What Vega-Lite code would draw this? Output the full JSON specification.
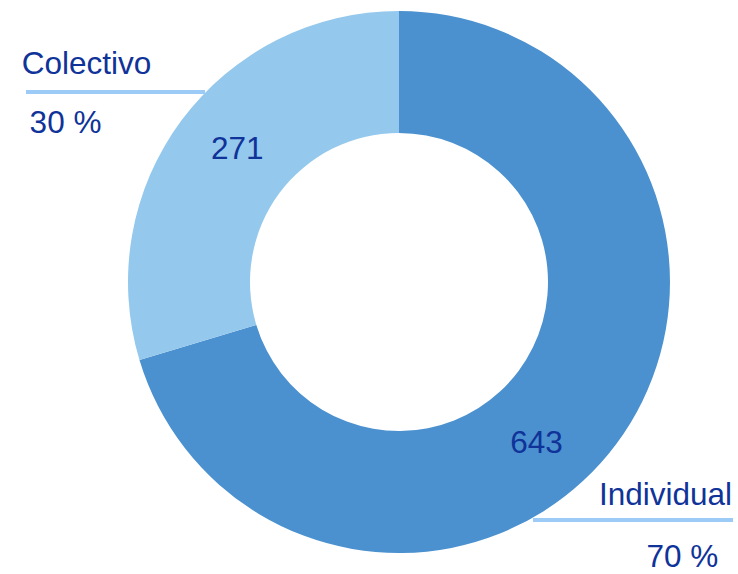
{
  "$schema": "https://vega.github.io/schema/vega-lite/v6.json",
  "width": 678,
  "height": 564,
  "autosize": {"type": "none"},
  "padding": {"left": 60, "top": 0, "right": 0, "bottom": 10},
  "background": "white",
  "config": {"view": {"stroke": null}, "text": {"font": "Liberation Sans", "fontSize": 31.5, "color": "#0f3399"}},
  "data": {"values": [
    {"categoria": "Individual", "valor": 643, "porcentaje": "70 %"},
    {"categoria": "Colectivo", "valor": 271, "porcentaje": "30 %"}
  ]},
  "transform": [
    {"stack": "valor", "groupby": [], "sort": [{"field": "categoria", "order": "descending"}], "as": ["v0", "v1"]},
    {"calculate": "(datum.v0 + datum.v1) / 2", "as": "mid"}
  ],
  "layer": [
    {
      "mark": {"type": "arc", "outerRadius": 271, "innerRadius": 149},
      "encoding": {
        "theta": {"field": "v0", "type": "quantitative", "scale": {"domain": [0, 914], "nice": false, "zero": true}},
        "theta2": {"field": "v1"},
        "color": {"field": "categoria", "type": "nominal", "legend": null,
          "scale": {"domain": ["Individual", "Colectivo"], "range": ["#4b91cf", "#94c8ec"]}}
      }
    },
    {
      "transform": [{"filter": "datum.categoria === 'Colectivo'"}],
      "mark": {"type": "text", "radius": 209, "dx": 6, "dy": -7},
      "encoding": {"theta": {"field": "mid", "type": "quantitative"}, "text": {"field": "valor"}}
    },
    {
      "transform": [{"filter": "datum.categoria === 'Individual'"}],
      "mark": {"type": "text", "radius": 210, "dx": -31, "dy": 37},
      "encoding": {"theta": {"field": "mid", "type": "quantitative"}, "text": {"field": "valor"}}
    },
    {
      "transform": [{"filter": "datum.categoria === 'Colectivo'"}],
      "mark": {"type": "text", "radius": 271, "dx": -95, "dy": -55},
      "encoding": {"theta": {"field": "mid", "type": "quantitative"}, "text": {"field": "categoria"}}
    },
    {
      "transform": [{"filter": "datum.categoria === 'Colectivo'"}],
      "mark": {"type": "text", "radius": 271, "dx": -116, "dy": 4},
      "encoding": {"theta": {"field": "mid", "type": "quantitative"}, "text": {"field": "porcentaje"}}
    },
    {
      "transform": [{"filter": "datum.categoria === 'Individual'"}],
      "mark": {"type": "text", "radius": 271, "dx": 49, "dy": 52},
      "encoding": {"theta": {"field": "mid", "type": "quantitative"}, "text": {"field": "categoria"}}
    },
    {
      "transform": [{"filter": "datum.categoria === 'Individual'"}],
      "mark": {"type": "text", "radius": 271, "dx": 66, "dy": 114},
      "encoding": {"theta": {"field": "mid", "type": "quantitative"}, "text": {"field": "porcentaje"}}
    },
    {
      "mark": {"type": "rule", "color": "#9dcbf7", "strokeWidth": 4},
      "encoding": {
        "x": {"datum": -34, "type": "quantitative", "scale": {"domain": [0, 678], "nice": false, "zero": false}, "axis": null},
        "x2": {"datum": 145},
        "y": {"datum": 92, "type": "quantitative", "scale": {"domain": [564, 0], "nice": false, "zero": false}, "axis": null}
      }
    },
    {
      "mark": {"type": "rule", "color": "#9dcbf7", "strokeWidth": 4},
      "encoding": {
        "x": {"datum": 473, "type": "quantitative", "axis": null},
        "x2": {"datum": 673},
        "y": {"datum": 520, "type": "quantitative", "axis": null}
      }
    }
  ]
}
